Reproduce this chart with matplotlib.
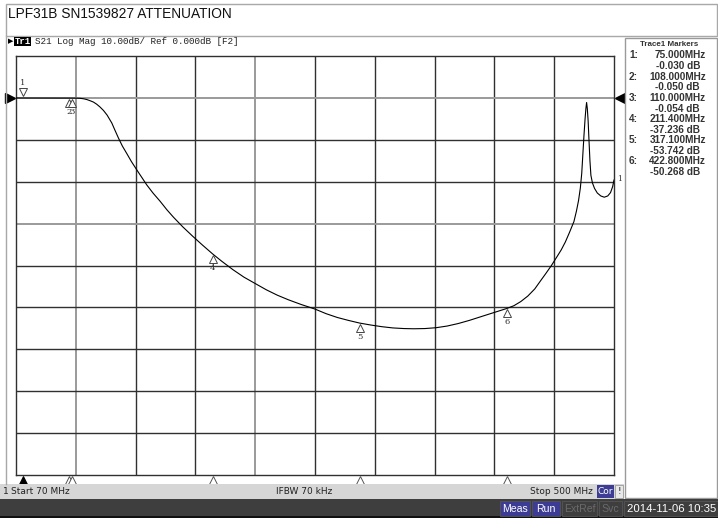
import matplotlib
matplotlib.use("Agg")
import matplotlib.pyplot as plt
import matplotlib.transforms as mtransforms
from matplotlib.patches import Rectangle

W, H = 718, 518

title = "LPF31B SN1539827 ATTENUATION"
trace_header = "S21 Log Mag 10.00dB/ Ref 0.000dB [F2]"
start_mhz, stop_mhz = 70, 500
ref_db = 0.0
db_per_div = 10.0
n_div = 10

# trace (MHz, dB)
freq_mhz = [70, 75, 85, 95, 108, 110, 113, 116, 118.5, 121, 123.5, 125.7, 128,
            130.5, 132.9, 135.5, 138.9, 141, 143.7, 146.5, 149.7, 153, 156.9,
            160.5, 164.1, 168.5, 173.7, 178.5, 183.3, 190, 197, 204, 211.4,
            218, 226, 234, 242, 250, 258, 266, 275, 285, 293, 301, 309, 317.1,
            325, 333, 341, 349, 356, 364, 372, 380, 388, 396, 404, 413, 422.8,
            428, 433, 438, 443, 447.3, 451, 455, 459, 462, 465, 468, 471.2, 473,
            474.5, 475.8, 476.8, 477.6, 478.4, 479.2, 479.8, 480.3, 480.8,
            481.4, 482.0, 482.7, 483.4, 484.5, 486, 488, 490.5, 493, 495.5,
            497.5, 499, 500]
s21_db = [-0.02, -0.03, -0.035, -0.04, -0.05, -0.054, -0.06, -0.1, -0.2, -0.4,
          -0.7, -1.0, -1.5, -2.2, -3.0, -4.1, -6.0, -7.6, -9.6, -11.5, -13.3,
          -15.2, -17.2, -19.0, -20.8, -22.7, -24.7, -26.7, -28.5, -30.8, -33.0,
          -35.1, -37.24, -39.0, -41.0, -42.8, -44.3, -45.8, -47.1, -48.2, -49.3,
          -50.4, -51.5, -52.4, -53.1, -53.74, -54.2, -54.6, -54.9, -55.05,
          -55.1, -55.05, -54.85, -54.45, -53.85, -53.1, -52.25, -51.3, -50.27,
          -49.6, -48.6, -47.3, -45.6, -43.6, -41.9, -40.0, -37.9, -36.3, -34.4,
          -32.1, -29.5, -27.0, -24.5, -21.5, -18.0, -13.5, -9.0, -5.0, -2.5,
          -1.1, -2.5, -5.5, -10.0, -15.0, -18.5, -20.3, -21.6, -22.7, -23.4,
          -23.7, -23.4, -22.6, -21.2, -19.6]

marker_ids = [1, 2, 3, 4, 5, 6]
marker_freq = [75.0, 108.0, 110.0, 211.4, 317.1, 422.8]
marker_db = [-0.030, -0.050, -0.054, -37.236, -53.742, -50.268]


def fx(x):
    return x / W


def fy(y):
    return 1 - y / H


fig = plt.figure(figsize=(W / 100, H / 100), dpi=100)
fig.patch.set_facecolor("white")

# title box
fig.patches.append(Rectangle((fx(6), fy(36)), fx(711), 32 / H, transform=fig.transFigure,
                             facecolor="white", edgecolor="#a8a8a8", lw=1))
fig.text(fx(8), fy(14), title, fontsize=9.9, family="Liberation Sans",
         va="center", ha="left", color="#111111")

# chart window frame
fig.add_artist(plt.Line2D([fx(6), fx(6)], [fy(36), fy(484)], color="#a8a8a8", lw=1))

# trace header line
fig.patches.append(Rectangle((fx(14), fy(45.5)), 17 / W, 9 / H, transform=fig.transFigure,
                             facecolor="black", edgecolor="none"))
fig.text(fx(22.5), fy(41), "Tr1", fontsize=6.5, family="Liberation Mono", color="white",
         ha="center", va="center", weight="bold")
fig.text(fx(8), fy(41), "\u25B6", fontsize=5, color="black", ha="left", va="center",
         family="DejaVu Sans")
fig.text(fx(35), fy(41), trace_header, fontsize=6.7, family="Liberation Mono",
         color="#222222", ha="left", va="center")

# grid axes
ax = fig.add_axes([fx(16), fy(475), (614 - 16) / W, (475 - 56) / H])
top_db = ref_db + db_per_div
bot_db = top_db - n_div * db_per_div
ax.set_xlim(start_mhz, stop_mhz)
ax.set_ylim(bot_db, top_db)
ax.set_xticks([])
ax.set_yticks([])
for s in ax.spines.values():
    s.set_color("#303030")
    s.set_linewidth(1)

x_step = (stop_mhz - start_mhz) / n_div
for i in range(1, n_div):
    light = i in (1, 4)
    ax.axvline(start_mhz + i * x_step, color="#9a9a9a" if light else "#303030",
               lw=1.4 if light else 1.0, zorder=1)
for i in range(1, n_div):
    light = i in (1, 4)
    ax.axhline(top_db - i * db_per_div, color="#9a9a9a" if light else "#303030",
               lw=1.4 if light else 1.0, zorder=1)

ax.plot(freq_mhz, s21_db, color="black", lw=0.8, zorder=3)

# markers on trace
for mid, f, d in zip(marker_ids, marker_freq, marker_db):
    if mid == 1:
        ax.plot([f], [d], marker="v", ms=5.5, mfc="white", mec="#444444", mew=0.7, zorder=4,
                transform=ax.transData + mtransforms.ScaledTranslation(0, 4 / 72, fig.dpi_scale_trans))
        ax.annotate(str(mid), xy=(f, d), xytext=(0, 10.5), textcoords="offset points",
                    ha="center", va="center", fontsize=6, family="DejaVu Serif", color="#333333")
    else:
        ax.plot([f], [d], marker="^", ms=5.5, mfc="white", mec="#444444", mew=0.7, zorder=4,
                transform=ax.transData + mtransforms.ScaledTranslation(0, -3.5 / 72, fig.dpi_scale_trans))
        ax.annotate(str(mid), xy=(f, d), xytext=(0, -10), textcoords="offset points",
                    ha="center", va="center", fontsize=6, family="DejaVu Serif", color="#333333")

# trace end label
ax.annotate("1", xy=(freq_mhz[-1], s21_db[-1]), xytext=(2, 1), textcoords="offset points",
            ha="left", va="center", fontsize=5.5, family="DejaVu Serif", color="#333333",
            annotation_clip=False)

# marker position triangles below grid
below = mtransforms.blended_transform_factory(ax.transData, ax.transAxes)
for mid, f in zip(marker_ids, marker_freq):
    filled = mid == 1
    ax.plot([f], [-0.0145], marker="^", ms=7, transform=below, clip_on=False,
            mfc="black" if filled else "white", mec="black" if filled else "#555555",
            mew=0.7, zorder=5)

# reference position arrows
ax.plot([start_mhz], [ref_db], marker=">", ms=7, color="black", clip_on=False,
        transform=ax.transData + mtransforms.ScaledTranslation(-4.5 / 72, 0, fig.dpi_scale_trans))
ax.plot([stop_mhz], [ref_db], marker="<", ms=7, color="black", clip_on=False,
        transform=ax.transData + mtransforms.ScaledTranslation(4.5 / 72, 0, fig.dpi_scale_trans))

# marker table panel
fig.patches.append(Rectangle((fx(625), fy(498)), 92 / W, (498 - 38) / H,
                             transform=fig.transFigure, facecolor="white",
                             edgecolor="#9a9a9a", lw=1))
tbl = dict(family="Liberation Sans", weight="bold", va="center", color="#333333")
fig.text(fx(669), fy(45), "Trace1 Markers", fontsize=5.8, ha="center", **tbl)
for k, (mid, f, d) in enumerate(zip(marker_ids, marker_freq, marker_db)):
    y0 = 55.5 + k * 21.2
    fig.text(fx(629), fy(y0), f"{mid}:", fontsize=7.2, ha="left", **tbl)
    fig.text(fx(706), fy(y0), f"{f:.3f}MHz", fontsize=7.2, ha="right", **tbl)
    fig.text(fx(700), fy(y0 + 10.6), f"{d:.3f} dB", fontsize=7.2, ha="right", **tbl)

# status bar
fig.patches.append(Rectangle((0, fy(499)), fx(624), 15 / H, transform=fig.transFigure,
                             facecolor="#d6d6d6", edgecolor="none"))
st = dict(fontsize=6.5, family="DejaVu Sans", va="center", color="#222222")
fig.text(fx(3), fy(492), "1", ha="left", **st)
fig.text(fx(11), fy(492), "Start 70 MHz", ha="left", **st)
fig.text(fx(304), fy(492), "IFBW 70 kHz", ha="center", **st)
fig.text(fx(593), fy(492), "Stop 500 MHz", ha="right", **st)
fig.patches.append(Rectangle((fx(597), fy(498)), 17 / W, 13 / H, transform=fig.transFigure,
                             facecolor="#3c3c94", edgecolor="none"))
fig.text(fx(605.5), fy(492), "Cor", ha="center", fontsize=6.5, family="DejaVu Sans",
         va="center", color="white")
fig.patches.append(Rectangle((fx(615), fy(498)), 8 / W, 13 / H, transform=fig.transFigure,
                             facecolor="#e8e8e8", edgecolor="#9a9a9a", lw=0.6))
fig.text(fx(619), fy(492), "!", ha="center", **st)

# bottom bar
fig.patches.append(Rectangle((0, 0), 1, 19 / H, transform=fig.transFigure,
                             facecolor="#3e3e3e", edgecolor="none"))
fig.patches.append(Rectangle((0, 0), 1, 2 / H, transform=fig.transFigure,
                             facecolor="#111111", edgecolor="none"))
boxes = [("Meas", 500, 530, "#3c3c94", "white"),
         ("Run", 532, 560, "#3c3c94", "white"),
         ("ExtRef", 562, 597, "#3e3e3e", "#6a6a6a"),
         ("Svc", 599, 622, "#3e3e3e", "#6a6a6a")]
for label, x0, x1, fc, tc in boxes:
    fig.patches.append(Rectangle((fx(x0), fy(516)), (x1 - x0) / W, 15 / H,
                                 transform=fig.transFigure, facecolor=fc,
                                 edgecolor="#555555", lw=0.6))
    fig.text(fx((x0 + x1) / 2), fy(508.5), label, ha="center", va="center",
             fontsize=7.6, family="Liberation Sans", color=tc)
fig.patches.append(Rectangle((fx(624), fy(516)), 94 / W, 15 / H, transform=fig.transFigure,
                             facecolor="#3e3e3e", edgecolor="#555555", lw=0.6))
fig.text(fx(716), fy(508.5), "2014-11-06 10:35", ha="right", va="center",
         fontsize=8.2, family="Liberation Sans", color="white")

fig.savefig("out.png", dpi=100)
